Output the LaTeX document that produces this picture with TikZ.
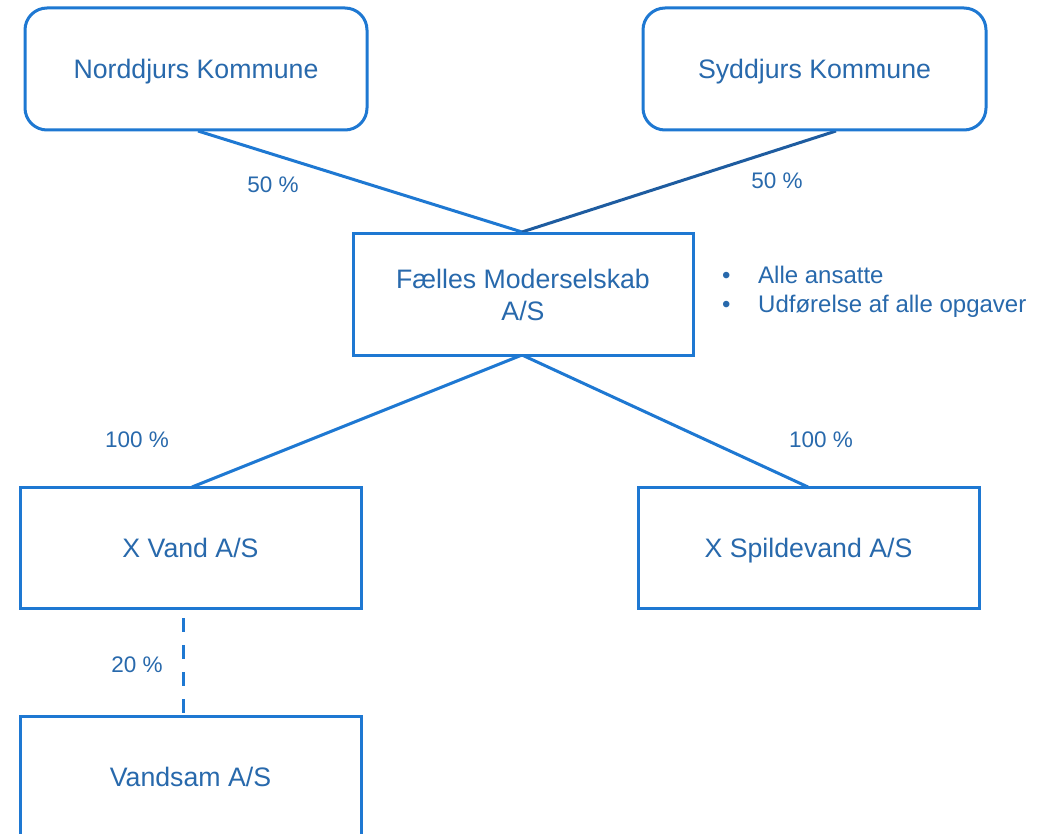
\documentclass[tikz,border=0pt]{standalone}
\usepackage{fontspec}
\setmainfont{Liberation Sans}
\usetikzlibrary{calc}
\definecolor{boxblue}{RGB}{30,120,210}
\definecolor{txtblue}{RGB}{40,105,172}
\definecolor{darkline}{RGB}{30,92,160}
\tikzset{
  orgbox/.style={draw=boxblue, line width=3pt, fill=white, text=txtblue, align=center,
    font=\fontsize{26.7}{32}\selectfont, inner sep=0pt},
  onebox/.style={orgbox, text height=19pt, text depth=0pt},
  roundbox/.style={onebox, rounded corners=22pt},
  conn/.style={draw=boxblue, line width=3pt},
  pct/.style={text=txtblue, font=\fontsize{22.5}{27}\selectfont, inner sep=0pt},
  bullet/.style={text=txtblue, font=\fontsize{24}{29}\selectfont, inner sep=0pt, anchor=base west}
}
\begin{document}
\begin{tikzpicture}[x=1pt,y=-1pt]
\useasboundingbox (0,0) rectangle (1056,834);
\clip (0,0) rectangle (1056,834);
\fill[white] (0,0) rectangle (1056,834);
% connectors first
\coordinate (nordout) at (198,131);
\coordinate (syddout) at (836,131);
\coordinate (faltop) at (522,232);
\coordinate (falbot) at (522,355);
\coordinate (vandin) at (192,487);
\coordinate (spildin) at (808,487);
\coordinate (dashtop) at (183,618);
\coordinate (dashbot) at (183,716);
\draw[conn] (nordout) -- (faltop);
\draw[conn, draw=darkline] (syddout) -- (faltop);
\draw[conn] (falbot) -- (vandin);
\draw[conn] (falbot) -- (spildin);
\draw[conn, dash pattern=on 14pt off 13pt] (dashtop) -- (dashbot);
% boxes
\node[roundbox, minimum width=342pt, minimum height=122pt] (nord) at (196,69) {Norddjurs Kommune};
\node[roundbox, minimum width=343pt, minimum height=122pt] (sydd) at (814.5,69) {Syddjurs Kommune};
\node[orgbox, minimum width=340pt, minimum height=122pt] (fal) at (523,294.5) {Fælles Moderselskab\\A/S};
\node[onebox, minimum width=341pt, minimum height=121pt] (xvand) at (190.5,547.5) {X Vand A/S};
\node[onebox, minimum width=341pt, minimum height=121pt] (spild) at (808.5,547.5) {X Spildevand A/S};
\node[onebox, minimum width=341pt, minimum height=122pt] (vandsam) at (190.5,777) {Vandsam A/S};
% labels
\node[pct] (l1) at (273,185) {50 \%};
\node[pct] (l2) at (777,181) {50 \%};
\node[pct] (l3) at (137,440) {100 \%};
\node[pct] (l4) at (821,440) {100 \%};
\node[pct] (l5) at (137,665) {20 \%};
% bullets
\node[bullet] (b1) at (722,283) {•};
\node[bullet] (b2) at (722,312) {•};
\node[bullet] (t1) at (758,283) {Alle ansatte};
\node[bullet] (t2) at (758,312) {Udførelse af alle opgaver};
\end{tikzpicture}
\end{document}
